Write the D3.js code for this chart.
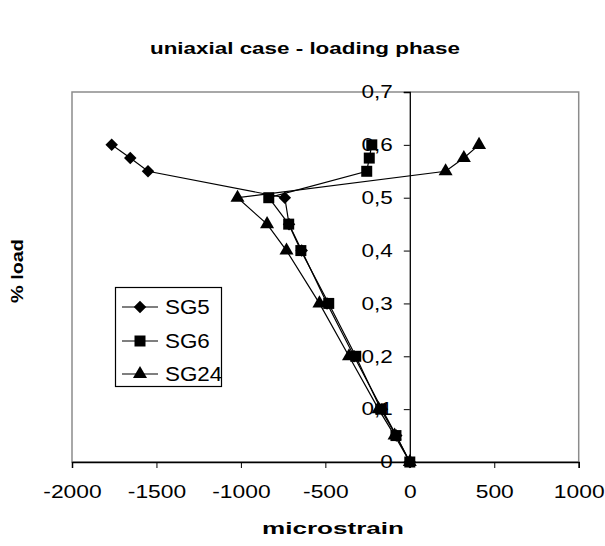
<!DOCTYPE html>
<html>
<head>
<meta charset="utf-8">
<script src="https://cdn.jsdelivr.net/npm/d3@7"></script>
<style>
  body { margin: 0; background: #fff; }
  text { font-family: "Liberation Sans", Arial, sans-serif; fill: #000; }
</style>
</head>
<body>
<svg id="chart" width="605" height="546"></svg>
<script>
// load levels shared by every gauge
const loadLevels = [0, 0.05, 0.1, 0.2, 0.3, 0.4, 0.45, 0.5, 0.55, 0.575, 0.6];
const sg5 = [0, -80, -165, -330, -490, -640, -715, -740, -1550, -1655, -1765];
const sg6 = [0, -82, -172, -320, -480, -645, -717, -835, -255, -240, -225];
const sg24 = [0, -90, -185, -360, -535, -730, -845, -1020, 212, 320, 410];
const xTicks = [-2000, -1500, -1000, -500, 0, 500, 1000];
const yTicks = [0, 0.1, 0.2, 0.3, 0.4, 0.5, 0.6, 0.7];
const seriesNames = ["SG5", "SG6", "SG24"];

const plot = {left: 72, right: 578.7, top: 92, bottom: 462};

const x = d3.scaleLinear().domain([-2000, 1000]).range([plot.left, plot.right]);
const y = d3.scaleLinear().domain([0, 0.7]).range([plot.bottom, plot.top]);

const svg = d3.select("#chart");

// widen text horizontally, the reference is stretched
const stretch = (sel, k) => sel.each(function() {
  const len = this.getComputedTextLength();
  d3.select(this).attr("textLength", len * k).attr("lengthAdjust", "spacingAndGlyphs");
});
const fitTo = (sel, w) => sel.attr("textLength", w).attr("lengthAdjust", "spacingAndGlyphs");

svg.append("rect")
  .attr("x", plot.left).attr("y", plot.top)
  .attr("width", plot.right - plot.left).attr("height", plot.bottom - plot.top)
  .attr("fill", "none").attr("stroke", "#8c8c8c").attr("stroke-width", 1.5);

const xAxis = svg.append("g")
  .attr("transform", `translate(0,${plot.bottom})`)
  .call(d3.axisBottom(x).tickValues(xTicks).tickSizeOuter(0).tickSize(6).tickPadding(17)
    .tickFormat(d => String(d)));
xAxis.select(".domain").attr("stroke-width", 1.5);
xAxis.selectAll("text").attr("font-size", 19).attr("font-family", null).call(stretch, 1.2);

const yAxis = svg.append("g")
  .attr("transform", `translate(${x(0)},0)`)
  .call(d3.axisLeft(y).tickValues(yTicks).tickSizeOuter(0).tickSize(6).tickPadding(11)
    .tickFormat(d => d === 0 ? "0" : d.toFixed(1).replace(".", ",")));
yAxis.select(".domain").attr("stroke-width", 1.3);
yAxis.selectAll("text").attr("font-size", 18).attr("font-family", null).call(stretch, 1.25);

const series = [sg5, sg6, sg24].map((vals, i) => ({
  name: seriesNames[i],
  points: vals.map((v, j) => ({x: v, y: loadLevels[j]}))
}));

const symbols = {
  SG5: d3.symbol().type(d3.symbolSquare).size(78),
  SG6: d3.symbol().type(d3.symbolSquare).size(121),
  SG24: d3.symbol().type(d3.symbolTriangle).size(85)
};
const rotate = {SG5: 45, SG6: 0, SG24: 0};

const line = d3.line().x(d => x(d.x)).y(d => y(d.y));

const g = svg.append("g");
series.forEach(s => {
  g.append("path")
    .datum(s.points)
    .attr("d", line)
    .attr("fill", "none")
    .attr("stroke", "#000")
    .attr("stroke-width", 1.2);
});
series.forEach(s => {
  g.selectAll(null)
    .data(s.points)
    .join("path")
    .attr("d", symbols[s.name])
    .attr("transform", d => `translate(${x(d.x)},${y(d.y)}) rotate(${rotate[s.name]})`)
    .attr("fill", "#000");
});

// legend
const legend = svg.append("g");
legend.append("rect")
  .attr("x", 115.5).attr("y", 287.5).attr("width", 106).attr("height", 99)
  .attr("fill", "#fff").attr("stroke", "#000").attr("stroke-width", 1.2);
const legendY = [307, 341, 374];
seriesNames.forEach((name, i) => {
  const row = legend.append("g").attr("transform", `translate(0,${legendY[i]})`);
  row.append("line").attr("x1", 122).attr("x2", 158).attr("stroke", "#000").attr("stroke-width", 1.2);
  row.append("path").attr("d", symbols[name])
    .attr("transform", `translate(140,0) rotate(${rotate[name]})`).attr("fill", "#000");
  row.append("text").attr("x", 165).attr("dy", "0.36em").attr("font-size", 20).text(name)
    .call(stretch, 1.12);
});

svg.append("text")
  .attr("x", 305).attr("y", 54).attr("text-anchor", "middle")
  .attr("font-size", 17).attr("font-weight", "bold")
  .text("uniaxial case - loading phase")
  .call(fitTo, 310);

svg.append("text")
  .attr("x", 333).attr("y", 534).attr("text-anchor", "middle")
  .attr("font-size", 17).attr("font-weight", "bold")
  .text("microstrain")
  .call(fitTo, 142);

svg.append("text")
  .attr("transform", "translate(23,271) rotate(-90)")
  .attr("text-anchor", "middle")
  .attr("font-size", 17).attr("font-weight", "bold")
  .text("% load")
  .call(fitTo, 64);
</script>
</body>
</html>
